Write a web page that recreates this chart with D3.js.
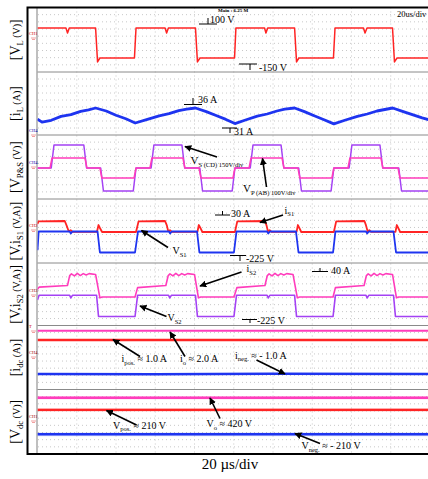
<!DOCTYPE html>
<html>
<head>
<meta charset="utf-8">
<script src="https://cdn.jsdelivr.net/npm/d3@7"></script>
<style>
body { margin: 0; background: #fff; }
svg { display: block; }
text { font-family: 'Liberation Serif', 'Times New Roman', serif; }
</style>
</head>
<body>
<div id="main"></div>
<script>
// ---- data (time in us) ----
const vL = [[0,100],[14.5,100],[15.3,58],[16.2,100],[29.6,100],[30.6,-183],[31.8,-150],[49.4,-150],[50.2,100],
    [65.0,100],[65.8,58],[66.7,100],[80.5,100],[81.5,-183],[82.8,-150],[100.4,-150],[101.1,100],
    [115.7,100],[116.4,58],[117.3,100],[131.0,100],[132.0,-183],[133.2,-150],[150.8,-150],[151.6,100],
    [166.1,100],[166.9,58],[167.9,100],[180.9,100],[181.9,-183],[183.2,-150],[200,-150]];

const iL = [[0,32.3],[2.3,31.3],[7,31.9],[12,33.2],[17,33.8],[22,34.9],[26,35.4],[29.6,36],[35,35],[40,33.6],[45,32.4],[49.8,31.0],
    [56,32.2],[62,33.4],[67,34.1],[72,35.1],[76,35.6],[80.5,36],[86,34.8],[91,33.5],[96,32.2],[100.6,30.8],
    [106,32],[112,33.3],[117,34],[122,35],[126,35.6],[131.0,36],[136,34.8],[141,33.4],[146,32.1],[151.0,30.7],
    [157,32],[163,33.2],[168,34],[173,35],[177,35.5],[181.0,36],[186,34.9],[191,33.8],[196,32.7],[200,32]];

const vpEdges = [6.4, 24.2, 31.8, 49.2, 57.3, 74.1, 82.3, 99.6, 107.8, 124.6, 132.7, 150.0, 158.2, 175.0, 183.7];
const vpLevels = [0, 122, 0, -122, 0, 122, 0, -122, 0, 122, 0, -122, 0, 122, 0, -122];
const vsEdges = [7.0, 23.6, 32.2, 48.8, 57.9, 73.6, 82.7, 99.2, 108.4, 124.1, 133.1, 149.6, 158.8, 174.5, 184.1];
const vsLevels = [0, 420, 0, -420, 0, 420, 0, -420, 0, 420, 0, -420, 0, 420, 0, -420];

const iS1 = [[0,22],[0.5,29],[13.9,30],[14.8,18],[15.9,2],[16.9,5],[17.9,0.5],[30.3,0.5],[31.1,19],[31.8,11],[32.9,0],
    [50.2,0],[51.5,29],[65,30],[65.9,18],[66.6,2],[67.5,5],[68.5,0.5],[81.5,0.5],[82.2,19],[83,11],[84,0],
    [100.6,0],[101.8,29],[115.9,30],[116.7,18],[117.4,2],[118.3,5],[119.2,0.5],[132,0.5],[132.7,19],[133.4,11],[134.4,0],
    [151,0],[152.2,29],[166.6,30],[167.4,18],[168.2,2],[169.1,5],[170,0.5],[182.4,0.5],[183.1,19],[183.8,11],[184.8,0],[200,0]];

const vS1 = [[0,-200],[0.6,0],[16.4,0],[17,-22],[17.8,0],[30.6,0],[31.8,-225],[49.7,-225],[51.2,0],
    [67,0],[67.6,-22],[68.4,0],[81.3,0],[82.5,-225],[100.1,-225],[101.4,0],
    [117,0],[117.6,-22],[118.4,0],[131.7,0],[133,-225],[150.6,-225],[151.8,0],
    [167.4,0],[168,-22],[168.8,0],[181.4,0],[182.7,-225],[200,-225]];

const iS2 = [[0,14],[0.8,18],[15.3,21],[16.4,39],[17.3,42],[18.8,38.5],[20.3,43],[21.8,39],[23.3,42.5],[24.8,40],[26.3,42.5],[29.6,41],[31.8,-1.5],[33,0],
    [49.7,0],[51.0,17],[65.4,21],[66.6,39],[67.5,42],[69,38.5],[70.5,43],[72,39],[73.5,42.5],[75,40],[76.5,42.5],[80,41],[82,-1.5],[83.2,0],
    [100.1,0],[101.6,17],[115.9,21],[117.1,39],[118,42],[119.5,38.5],[121,43],[122.5,39],[124,42.5],[125.5,40],[127,42.5],[130.2,41],[132.4,-1.5],[133.6,0],
    [150.6,0],[151.8,17],[166.4,21],[167.6,39],[168.5,42],[170,38.5],[171.5,43],[173,39],[174.5,42.5],[176,40],[177.5,42.5],[180.9,41],[182.9,-1.5],[184,0],[200,0]];

const vS2 = [[0,-50],[0.8,0],[16.4,0],[17,-28],[17.8,0],[30.1,0],[31.1,-225],[49.7,-225],[51,0],
    [66.8,0],[67.4,-28],[68.2,0],[80.5,0],[81.5,-225],[100.1,-225],[101.4,0],
    [117,0],[117.6,-28],[118.4,0],[131,0],[132,-225],[150.6,-225],[151.8,0],
    [167.4,0],[168,-28],[168.8,0],[181.4,0],[182.4,-225],[200,-225]];

const iO = [[0,2.0],[200,2.0]];
const iPos = [[0,1.0],[200,1.0]];
const iNeg = [[0,-1.0],[60,-1.03],[120,-0.98],[200,-1.0]];

const vO = [[0,420],[200,420]];
const vPos = [[0,210],[200,210]];
const vNeg = [[0,-210],[200,-210]];

const panelLabels = [
    ['[V', 'L', ' (V)', ']'],
    ['[i', 'L', ' (A)', ']'],
    ['[V', 'P&S', ' (V)', ']'],
    ['[V,i', 'S1', ' (V,A)', ']'],
    ['[V,i', 'S2', ' (V,A)', ']'],
    ['[i', 'dc', ' (A)', ']'],
    ['[V', 'dc', ' (V)', ']']
];

// ---- layout ----
const width = 428, height = 479;
const panelY = [7.5, 72, 135, 199, 263, 325.5, 389.5, 454];
const red = '#ff2424', blue = '#1e34f0', purple = '#a442f4', pink = '#ff3cbc';

const svg = d3.select('#main').append('svg').attr('width', width).attr('height', height);

const x = d3.scaleLinear().domain([0, 200]).range([37.5, 430]);

// per-channel vertical scales
const yVL = d3.scaleLinear().domain([-150, 100]).range([58, 28]);
const yIL = d3.scaleLinear().domain([31, 36]).range([123, 108]);
const yVp = d3.scaleLinear().domain([-122, 122]).range([178, 158]);
const yVs = d3.scaleLinear().domain([-420, 420]).range([191, 145]);
const yIS1 = d3.scaleLinear().domain([0, 30]).range([232, 221]);
const yVS1 = d3.scaleLinear().domain([-225, 0]).range([252.5, 231.5]);
const yIS2 = d3.scaleLinear().domain([0, 40]).range([297, 275]);
const yVS2 = d3.scaleLinear().domain([-225, 0]).range([316.5, 295.3]);
const yIdcA = d3.scaleLinear().domain([1, 2]).range([340, 330.7]);
const yIdcB = d3.scaleLinear().domain([-1, 0]).range([374, 364.7]);
const yVdc = d3.scaleLinear().domain([-210, 420]).range([434.3, 397.7]);

function steps(edges, levels, ramp) {
    const pts = [[0, levels[0]]];
    edges.forEach((e, i) => {
        pts.push([e, levels[i]]);
        pts.push([e + ramp, levels[i + 1]]);
    });
    pts.push([200, levels[levels.length - 1]]);
    return pts;
}

// ---- grid ----
const grid = svg.append('g');
for (let p = 0; p < 7; p++) {
    const t = panelY[p], h = panelY[p + 1] - panelY[p];
    for (let k = 1; k <= 8; k++) {
        grid.append('line')
            .attr('x1', 38).attr('x2', width)
            .attr('y1', t + h * k / 9).attr('y2', t + h * k / 9)
            .attr('stroke', '#c8c8c8').attr('stroke-width', 1)
            .attr('stroke-dasharray', '1,3');
    }
}
d3.range(20, 200, 20).forEach(d => {
    grid.append('line')
        .attr('x1', x(d)).attr('x2', x(d))
        .attr('y1', panelY[0]).attr('y2', panelY[7])
        .attr('stroke', '#c8c8c8').attr('stroke-width', 1)
        .attr('stroke-dasharray', '1,3');
});

// panel separators
panelY.slice(1, 7).forEach(py => {
    svg.append('line').attr('x1', 37).attr('x2', width).attr('y1', py).attr('y2', py)
        .attr('stroke', '#8a8a8a').attr('stroke-width', 1);
});
svg.append('line').attr('x1', 37).attr('x2', 37).attr('y1', panelY[0]).attr('y2', panelY[7])
    .attr('stroke', '#aaa').attr('stroke-width', 1.5);

// ---- traces ----
svg.append('clipPath').attr('id', 'plot').append('rect')
    .attr('x', 37.5).attr('y', panelY[0]).attr('width', width - 37.5).attr('height', panelY[7] - panelY[0]);
const traces = svg.append('g').attr('clip-path', 'url(#plot)');

function trace(data, ys, color, w, fuzz) {
    const line = d3.line().x(d => x(d[0])).y(d => ys(d[1]));
    if (fuzz) {
        traces.append('path').attr('d', line(data)).attr('fill', 'none')
            .attr('stroke', color).attr('stroke-width', w + 1.2).attr('opacity', 0.35)
            .attr('stroke-dasharray', '1,1');
    }
    traces.append('path').attr('d', line(data)).attr('fill', 'none')
        .attr('stroke', color).attr('stroke-width', w)
        .attr('stroke-linejoin', 'round');
}

trace(vL, yVL, red, 1.5);
trace(iL, yIL, blue, 2.8);
trace(steps(vsEdges, vsLevels, 1.4), yVs, purple, 1.5);
trace(steps(vpEdges, vpLevels, 1.0), yVp, pink, 1.5);
trace(iS1, yIS1, red, 1.8);
trace(vS1, yVS1, blue, 1.8);
trace(iS2, yIS2, pink, 1.6);
trace(vS2, yVS2, purple, 1.6);
trace(iO, yIdcA, pink, 2);
trace(iPos, yIdcA, red, 2.4);
trace(iNeg, yIdcB, blue, 2.6);
trace(vO, yVdc, pink, 2.4, true);
trace(vPos, yVdc, red, 2.4, true);
trace(vNeg, yVdc, blue, 2.6, true);

// ---- frame ----
svg.append('path')
    .attr('d', `M${width + 2},${panelY[0]} H27.5 V${panelY[7]} H${width + 2}`)
    .attr('fill', 'none').attr('stroke', '#000').attr('stroke-width', 2);

// ---- left labels ----
panelLabels.forEach((lab, i) => {
    const cy = (panelY[i] + panelY[i + 1]) / 2;
    const t = svg.append('text')
        .attr('transform', `translate(19.5,${cy}) rotate(-90)`)
        .attr('text-anchor', 'middle').attr('font-size', 14);
    t.append('tspan').text(lab[0]);
    t.append('tspan').attr('font-size', 8.5).attr('dy', 3).text(lab[1]);
    t.append('tspan').attr('font-size', 10).attr('dy', -3).text(lab[2]);
    t.append('tspan').text(lab[3]);
});

// channel markers at left edge
const chMarks = [['CH1', 35, '#c00'], ['CH4', 132, '#00a'], ['CH4', 164, '#00a'], ['CH2', 227, '#c00'],
    ['CH3', 292, '#900'], ['T', 328, '#c00'], ['CH4', 354, '#900'], ['CH1', 418, '#900']];
chMarks.forEach(c => {
    svg.append('text').attr('x', 29).attr('y', c[1]).attr('font-size', 4.5)
        .attr('font-family', 'DejaVu Sans').attr('fill', c[2]).text(c[0]);
    svg.append('path').attr('d', `M31,${c[1] + 3}h5M32,${c[1] + 4.5}h3`)
        .attr('stroke', '#e88').attr('stroke-width', 0.8);
});

// top texts
svg.append('text').attr('x', 218).attr('y', 12).attr('font-size', 5).attr('font-weight', 'bold')
    .attr('font-family', 'DejaVu Sans').text('Main : 6.25 M');
svg.append('text').attr('x', 397).attr('y', 17).attr('font-size', 8.5).text('20us/div');

// ---- level markers ----
const markers = [
    { x1: 199, x2: 217, y: 24, tx: 208, ty: 18, label: '100 V', lx: 210, ly: 23 },
    { x1: 239, x2: 257, y: 64, tx: 250, ty: 70, label: '-150 V', lx: 259, ly: 71 },
    { x1: 184, x2: 202, y: 104.5, tx: 193, ty: 98, label: '36 A', lx: 198, ly: 103 },
    { x1: 222, x2: 237, y: 128, tx: 230, ty: 133, label: '31 A', lx: 234, ly: 134.5 },
    { x1: 215, x2: 230, y: 215, tx: 222.5, ty: 211, label: '30 A', lx: 231, ly: 217 },
    { x1: 230, x2: 246, y: 255.5, tx: 240, ty: 261, label: '-225 V', lx: 246, ly: 261.5 },
    { x1: 312, x2: 328, y: 271.5, tx: 320, ty: 268, label: '40 A', lx: 331, ly: 274 },
    { x1: 242, x2: 257, y: 319.5, tx: 250, ty: 323, label: '-225 V', lx: 257, ly: 324 }
];
markers.forEach(m => {
    svg.append('path').attr('d', `M${m.x1},${m.y}H${m.x2}M${m.tx},${m.y}V${m.ty}`)
        .attr('stroke', '#000').attr('stroke-width', 1).attr('fill', 'none');
    svg.append('text').attr('x', m.lx).attr('y', m.ly).attr('font-size', 10).text(m.label);
});

// ---- annotations ----
svg.append('defs').append('marker')
    .attr('id', 'ah').attr('viewBox', '0 0 10 10').attr('refX', 9).attr('refY', 5)
    .attr('markerWidth', 7).attr('markerHeight', 7).attr('markerUnits', 'userSpaceOnUse')
    .attr('orient', 'auto')
    .append('path').attr('d', 'M0,0L10,5L0,10z').attr('fill', '#000');

const arrows = [
    [217, 157, 185, 146.5], [266.5, 187, 262.5, 158.5],
    [283, 215, 260, 222.5], [168, 247.5, 141.5, 230.5],
    [241.5, 272, 200, 286], [166.5, 316.5, 140, 306],
    [140, 356.5, 113, 339.5], [185, 356.5, 170, 332], [256.5, 360, 285, 374],
    [136.5, 425, 106.5, 410.5], [220, 418.5, 210, 398], [320, 443.5, 295, 433.5]
];
arrows.forEach(a => {
    svg.append('line').attr('x1', a[0]).attr('y1', a[1]).attr('x2', a[2]).attr('y2', a[3])
        .attr('stroke', '#000').attr('stroke-width', 1.6).attr('marker-end', 'url(#ah)');
});

// texts with subscripts: [x, y, main, sub, rest, size]
const notes = [
    [190.5, 164, 'V', 'S (CD) 150V/div', '', 11],
    [243, 192, 'V', 'P (AB) 100V/div', '', 11],
    [284.5, 213.5, 'i', 'S1', '', 10],
    [172.5, 254, 'V', 'S1', '', 10],
    [246.5, 272, 'i', 'S2', '', 10],
    [167.5, 321, 'V', 'S2', '', 10],
    [121.5, 362, 'i', 'pos.', ' \u2248 1.0 A', 10],
    [180, 362, 'i', 'o', ' \u2248 2.0 A', 10],
    [235, 358.5, 'i', 'neg.', ' \u2248 - 1.0 A', 10],
    [113, 428.5, 'V', 'pos.', ' \u2248 210 V', 10],
    [206.5, 427, 'V', 'o', ' \u2248 420 V', 10],
    [301.5, 449, 'V', 'neg.', ' \u2248 - 210 V', 10]
];
notes.forEach(n => {
    const t = svg.append('text').attr('x', n[0]).attr('y', n[1]).attr('font-size', n[5]);
    t.append('tspan').text(n[2]);
    t.append('tspan').attr('font-size', 6.5).attr('dy', 2.5).text(n[3]);
    if (n[4]) t.append('tspan').attr('dy', -2.5).text(n[4]);
});

// bottom label
svg.append('text').attr('x', 230).attr('y', 469).attr('text-anchor', 'middle')
    .attr('font-size', 15).text('20 \u00b5s/div');
</script>
</body>
</html>
